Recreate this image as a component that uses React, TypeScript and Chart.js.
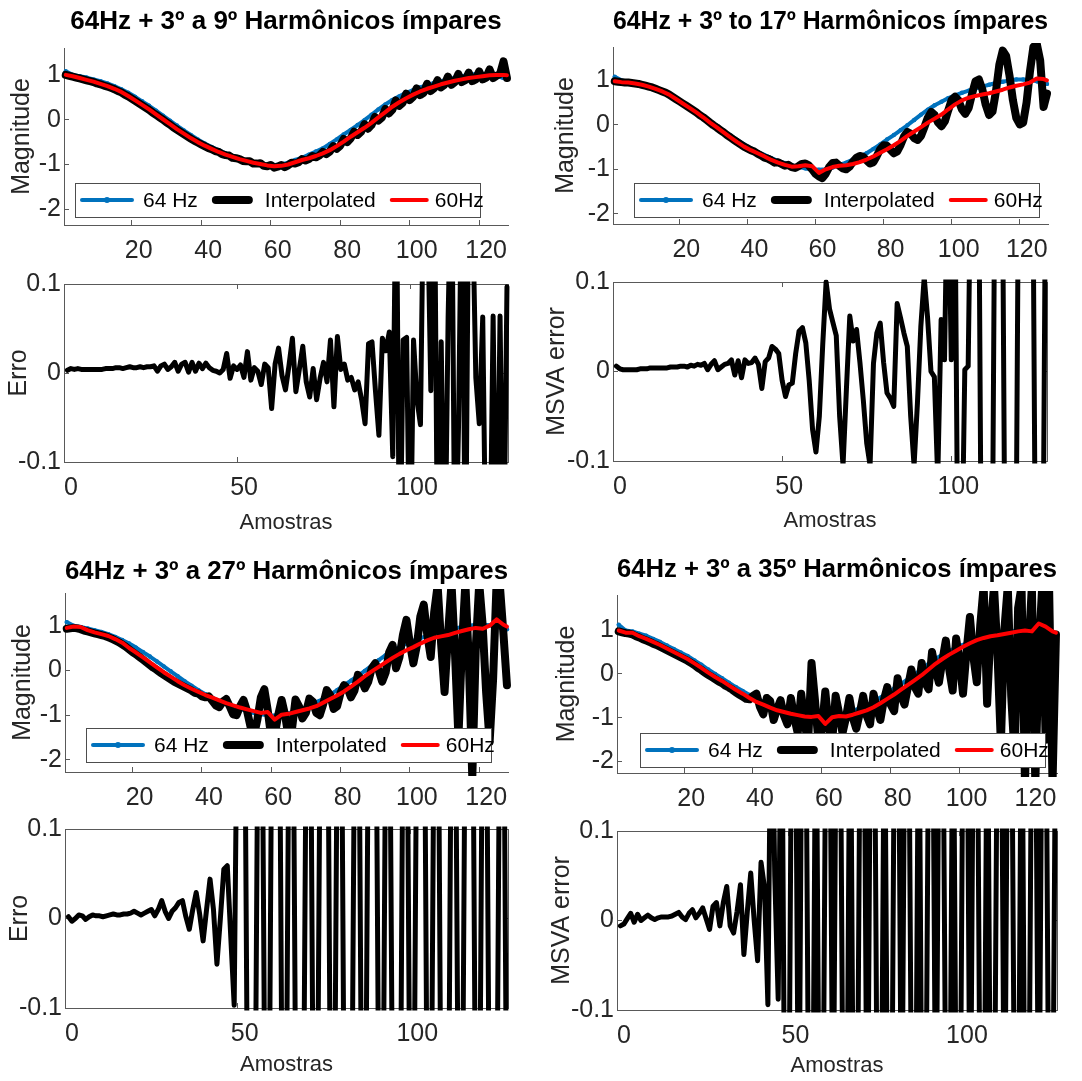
import { useEffect, useRef } from 'react';
import { Chart, registerables } from 'chart.js';

Chart.register(...registerables);

// ---------------- data ----------------
const SAMPLES: number[] = Array.from({ length: 128 }, (_, i) => i + 1);
const HALF_SAMPLES: number[] = [...Array.from({ length: 64 }, (_, i) => 2 * i + 1), 128];

const MAG_X_TICKS = [20, 40, 60, 80, 100, 120];
const MAG_Y_TICKS = [-2, -1, 0, 1];
const ERR_X_TICKS = [0, 50, 100];
const ERR_Y_TICKS = [-0.1, 0, 0.1];

const TITLES = [
  '64Hz + 3º a 9º Harmônicos ímpares',
  '64Hz + 3º to 17º Harmônicos ímpares',
  '64Hz + 3º a 27º Harmônicos ímpares',
  '64Hz + 3º a 35º Harmônicos ímpares',
];
const SERIES_LABELS = ['64 Hz', 'Interpolated', '60Hz'];
const ERR_LABELS = ['Erro', 'MSVA error', 'Erro', 'MSVA error'];

// 64 Hz reference (odd samples + last)
const HZ64 = [
  1.08, 1.0, 0.97, 0.94, 0.9, 0.86, 0.81, 0.75, 0.68, 0.6,
  0.51, 0.41, 0.31, 0.2, 0.09, -0.02, -0.13, -0.24, -0.34, -0.44,
  -0.53, -0.61, -0.68, -0.75, -0.81, -0.86, -0.91, -0.95, -0.98, -1.0,
  -1.01, -1.0, -0.96, -0.9, -0.85, -0.78, -0.71, -0.64, -0.54, -0.44,
  -0.33, -0.23, -0.12, -0.01, 0.11, 0.23, 0.34, 0.44, 0.52, 0.6,
  0.66, 0.72, 0.77, 0.82, 0.86, 0.9, 0.94, 0.97, 1.0, 1.02,
  1.02, 1.01, 0.98, 0.93, 0.92,
];
const HZ64_D = [
  1.12, 0.99, 0.97, 0.92, 0.87, 0.8, 0.73, 0.65, 0.57, 0.49,
  0.41, 0.31, 0.21, 0.1, 0.0, -0.1, -0.2, -0.3, -0.39, -0.48,
  -0.56, -0.63, -0.7, -0.76, -0.81, -0.86, -0.91, -0.95, -0.98, -1.0,
  -1.01, -1.0, -0.96, -0.9, -0.85, -0.78, -0.71, -0.64, -0.54, -0.44,
  -0.33, -0.23, -0.12, -0.01, 0.11, 0.23, 0.34, 0.44, 0.52, 0.6,
  0.66, 0.72, 0.77, 0.82, 0.86, 0.9, 0.94, 0.97, 1.0, 1.02,
  1.02, 1.01, 0.98, 0.93, 0.92,
];

// 60 Hz curves (odd samples + last)
const HZ60_A = [
  1.0, 0.97, 0.93, 0.89, 0.85, 0.8, 0.75, 0.69, 0.62, 0.53,
  0.43, 0.33, 0.23, 0.12, 0.01, -0.1, -0.21, -0.31, -0.41, -0.5,
  -0.58, -0.65, -0.72, -0.78, -0.83, -0.88, -0.92, -0.96, -0.99, -1.02,
  -1.04, -1.03, -1.0, -0.95, -0.9, -0.86, -0.81, -0.75, -0.68, -0.59,
  -0.49, -0.38, -0.28, -0.18, -0.07, 0.05, 0.17, 0.29, 0.39, 0.48,
  0.56, 0.63, 0.69, 0.74, 0.79, 0.83, 0.87, 0.9, 0.93, 0.95,
  0.97, 0.99, 1.0, 1.0, 0.99,
];
const HZ60_B = [
  0.98, 0.96, 0.95, 0.93, 0.9, 0.86, 0.81, 0.75, 0.68, 0.58,
  0.48, 0.38, 0.28, 0.17, 0.05, -0.06, -0.17, -0.28, -0.39, -0.49,
  -0.57, -0.64, -0.71, -0.79, -0.85, -0.9, -0.94, -0.93, -0.91, -0.93,
  -1.08, -1.0, -0.95, -0.92, -0.91, -0.88, -0.84, -0.78, -0.71, -0.63,
  -0.55, -0.46, -0.36, -0.25, -0.15, -0.05, 0.05, 0.14, 0.23, 0.35,
  0.46, 0.55, 0.61, 0.65, 0.68, 0.71, 0.75, 0.79, 0.84, 0.88,
  0.91, 0.95, 1.04, 1.03, 1.0,
];
const HZ60_C = [
  0.95, 0.98, 0.97, 0.9, 0.85, 0.81, 0.77, 0.7, 0.62, 0.5,
  0.4, 0.29, 0.18, 0.07, -0.04, -0.14, -0.24, -0.33, -0.41, -0.48,
  -0.55, -0.61, -0.67, -0.73, -0.78, -0.83, -0.87, -0.91, -0.95, -0.93,
  -1.1, -0.99, -0.97, -0.93, -0.89, -0.85, -0.8, -0.72, -0.64, -0.56,
  -0.47, -0.36, -0.25, -0.13, -0.02, 0.08, 0.18, 0.28, 0.37, 0.45,
  0.52, 0.6, 0.67, 0.73, 0.76, 0.79, 0.84, 0.88, 0.92, 0.95,
  0.93, 1.0, 1.14, 1.02, 0.98,
];
const HZ60_D = [
  0.99, 0.94, 0.94, 0.86, 0.8, 0.73, 0.66, 0.58, 0.5, 0.42,
  0.34, 0.24, 0.14, 0.03, -0.07, -0.16, -0.26, -0.36, -0.45, -0.55,
  -0.64, -0.7, -0.77, -0.83, -0.87, -0.91, -0.94, -0.97, -0.98, -0.96,
  -1.14, -0.99, -0.96, -0.97, -0.93, -0.88, -0.83, -0.76, -0.67, -0.57,
  -0.47, -0.36, -0.25, -0.14, -0.03, 0.1, 0.23, 0.34, 0.44, 0.53,
  0.62, 0.7, 0.77, 0.82, 0.86, 0.88, 0.91, 0.94, 0.97, 0.99,
  0.97, 1.15, 1.08, 0.97, 0.94,
];

// Interpolated curves (every sample)
const INTERP_A = [
  1.0, 0.98, 0.96, 0.94, 0.92, 0.9, 0.88, 0.86, 0.84, 0.81,
  0.79, 0.76, 0.74, 0.71, 0.68, 0.64, 0.61, 0.56, 0.52, 0.47,
  0.42, 0.37, 0.32, 0.27, 0.22, 0.16, 0.11, 0.05, 0.0, -0.06,
  -0.11, -0.17, -0.22, -0.27, -0.32, -0.37, -0.42, -0.47, -0.51, -0.55,
  -0.59, -0.63, -0.66, -0.7, -0.72, -0.77, -0.79, -0.8, -0.85, -0.86,
  -0.88, -0.92, -0.93, -0.93, -0.98, -0.98, -0.97, -1.03, -1.04, -1.01,
  -1.07, -1.05, -1.01, -1.06, -1.02, -0.96, -0.98, -0.95, -0.88, -0.91,
  -0.88, -0.81, -0.84, -0.8, -0.72, -0.77, -0.71, -0.59, -0.65, -0.58,
  -0.43, -0.5, -0.42, -0.27, -0.34, -0.27, -0.1, -0.2, -0.12, 0.06,
  -0.02, 0.05, 0.24, 0.14, 0.22, 0.43, 0.31, 0.38, 0.58, 0.44,
  0.51, 0.7, 0.55, 0.6, 0.8, 0.64, 0.7, 0.88, 0.72, 0.78,
  0.96, 0.78, 0.84, 1.02, 0.84, 0.88, 1.05, 0.86, 0.9, 1.08,
  0.9, 0.94, 1.12, 0.93, 0.98, 1.02, 1.3, 0.93,
];
const INTERP_B = [
  0.98, 0.97, 0.96, 0.95, 0.95, 0.94, 0.93, 0.92, 0.9, 0.88,
  0.86, 0.84, 0.81, 0.78, 0.75, 0.72, 0.68, 0.63, 0.58, 0.53,
  0.48, 0.43, 0.38, 0.33, 0.28, 0.22, 0.17, 0.11, 0.05, -0.01,
  -0.06, -0.12, -0.17, -0.23, -0.28, -0.34, -0.39, -0.44, -0.49, -0.53,
  -0.57, -0.6, -0.65, -0.69, -0.74, -0.76, -0.8, -0.85, -0.84, -0.88,
  -0.92, -0.9, -0.95, -0.97, -0.93, -0.88, -0.87, -0.91, -1.0, -1.1,
  -1.16, -1.2, -1.1, -0.95, -0.86, -0.85, -0.92, -0.98, -1.0, -0.94,
  -0.83, -0.74, -0.7, -0.72, -0.8, -0.87, -0.84, -0.7, -0.55, -0.46,
  -0.47, -0.56, -0.64, -0.6, -0.45, -0.26, -0.16, -0.2, -0.3, -0.34,
  -0.25, -0.05, 0.16, 0.29, 0.22, 0.05, -0.03, 0.08, 0.33, 0.56,
  0.63, 0.55, 0.35, 0.25, 0.38, 0.7, 0.98, 1.02, 0.8, 0.45,
  0.22, 0.3, 0.75, 1.35, 1.67, 1.55, 1.1, 0.55, 0.15, 0.01,
  0.05, 0.5, 1.2, 1.75, 1.82, 1.45, 0.4, 0.7,
];
const INTERP_C = [
  0.93, 0.94, 0.95, 0.94, 0.92, 0.89, 0.87, 0.85, 0.83, 0.81,
  0.79, 0.77, 0.74, 0.71, 0.67, 0.63, 0.58, 0.53, 0.47, 0.41,
  0.36, 0.3, 0.24, 0.18, 0.12, 0.06, 0.01, -0.05, -0.1, -0.15,
  -0.2, -0.25, -0.29, -0.33, -0.37, -0.41, -0.45, -0.5, -0.52, -0.58,
  -0.6, -0.58, -0.68, -0.78, -0.82, -0.7, -0.64, -0.8, -0.98, -1.0,
  -0.8, -0.66, -0.9, -1.25, -1.45, -1.1, -0.6, -0.42, -0.9, -1.5,
  -1.45, -1.0, -0.66, -1.0, -1.5, -1.3, -0.65, -0.8, -1.07, -0.95,
  -0.63, -0.7, -0.95, -1.0, -0.75, -0.44, -0.55, -0.86, -0.8, -0.5,
  -0.33, -0.4, -0.6, -0.45, -0.1, -0.2, -0.4, -0.25, 0.05, 0.16,
  0.0, -0.25, -0.05, 0.4, 0.57, 0.05, 0.3, 0.8, 1.13, 0.6,
  0.16, 0.55, 1.2, 1.47, 0.8, 0.3, 1.3, 1.9, 0.6, -0.48,
  0.8, 1.95, 0.4, -1.5, 0.5, 1.95, 0.2, -2.4, 0.5, 1.95,
  1.0, -0.5, -1.6, -0.2, 1.95, 1.85, 0.8, -0.33,
];
const INTERP_D = [
  0.97, 0.95, 0.93, 0.92, 0.9, 0.86, 0.83, 0.79, 0.76, 0.73,
  0.69, 0.66, 0.62, 0.58, 0.54, 0.5, 0.46, 0.42, 0.38, 0.34,
  0.3, 0.25, 0.2, 0.14, 0.09, 0.03, -0.02, -0.07, -0.12, -0.17,
  -0.21, -0.27, -0.31, -0.36, -0.42, -0.47, -0.52, -0.57, -0.58, -0.5,
  -0.45, -0.75, -0.92, -0.55, -0.62, -1.05, -0.8, -0.6, -0.95, -1.15,
  -0.55, -1.0, -1.35, -0.45, -1.1, -1.6, 0.25, -0.6, -1.55, -1.3,
  -0.4, -1.2, -1.55, -0.5, -0.9, -1.35, -1.0, -0.55, -1.0, -1.25,
  -0.9, -0.5, -0.95, -1.15, -0.45, -0.8, -1.05, -0.6, -0.3, -0.7,
  -0.85, -0.1, -0.5, -0.7, -0.3, 0.1, -0.3, -0.45, 0.25, -0.2,
  -0.35, 0.5, 0.1, -0.2, 0.3, 0.76, 0.1, -0.38, 0.81, 0.3,
  -0.45, 0.5, 1.3, 0.4, -0.19, 1.1, 2.0, -0.68, 1.0, 2.0,
  0.5, -1.6, 1.0, 2.0, -0.5, -1.9, 1.5, 2.0, -2.5, 0.5,
  2.0, -2.5, 0.5, 2.0, -1.5, 2.0, -2.5, 0.9,
];

// Error curves (every sample)
const ERR_A = [
  0.003, 0.005, 0.004, 0.005, 0.004, 0.004, 0.004, 0.004, 0.004, 0.004,
  0.004, 0.005, 0.005, 0.005, 0.006, 0.006, 0.005, 0.006, 0.007, 0.006,
  0.006, 0.007, 0.006, 0.007, 0.007, 0.008, 0.002, 0.008, 0.01, 0.004,
  0.007, 0.012, 0.002, 0.01, 0.012, 0.001, 0.012, 0.002, 0.011, 0.005,
  0.011, 0.006, 0.003, 0.002, 0.0, 0.004, 0.022, -0.006, 0.008, 0.004,
  0.009, -0.005, 0.024, -0.008, 0.006, 0.002, -0.013, 0.01, 0.006, -0.04,
  0.01, 0.028, -0.003, -0.019, 0.008, 0.039, -0.021, 0.004, 0.03, -0.01,
  -0.027, 0.005, -0.03, -0.006, 0.012, -0.01, 0.037, -0.038, 0.041, 0.004,
  0.01, -0.008, -0.005, -0.019, -0.01, -0.03, -0.057, 0.033, 0.035, -0.02,
  -0.07, 0.039, 0.025, 0.046, -0.094, 0.25, -0.25, 0.037, 0.04, -0.25,
  0.037, -0.03, -0.058, 0.25, 0.2, -0.02, 0.25, -0.25, 0.035, -0.25,
  0.063, 0.25, -0.25, -0.06, 0.25, -0.25, 0.25, 0.2, -0.005, -0.057,
  0.063, -0.25, -0.25, 0.064, -0.25, 0.064, -0.25, 0.097,
];
const ERR_B = [
  0.006, 0.003, 0.002, 0.002, 0.002, 0.002, 0.002, 0.003, 0.003, 0.003,
  0.004, 0.004, 0.004, 0.004, 0.004, 0.004, 0.005, 0.005, 0.005, 0.006,
  0.006, 0.005, 0.007, 0.006, 0.008, 0.007, 0.009, 0.002, 0.008, 0.012,
  0.002, 0.005, 0.008, 0.009, 0.013, -0.004, 0.012, -0.007, 0.013, 0.009,
  0.01, 0.015, 0.008, -0.019, 0.011, 0.015, 0.028, 0.025, 0.02, -0.01,
  -0.028, -0.015, -0.013, 0.02, 0.045, 0.049, 0.032, -0.01, -0.065, -0.09,
  -0.05, 0.03, 0.1, 0.07, 0.055, 0.04, -0.05, -0.105, -0.02, 0.062,
  0.034, 0.047, 0.01, -0.032, -0.08, -0.105, 0.009, 0.043, 0.054, 0.01,
  -0.024, -0.03, -0.039, 0.076, 0.06, 0.043, 0.028, -0.05, -0.105, -0.035,
  0.05, 0.105, 0.06, 0.0, -0.006, -0.12, 0.058, 0.013, 0.25, 0.013,
  0.25, -0.25, -0.25, 0.002, 0.006, 0.3, 0.3, 0.3, -0.3, -0.3,
  -0.3, -0.3, 0.3, 0.3, 0.3, -0.3, -0.3, -0.3, -0.3, 0.3,
  0.3, 0.3, 0.3, 0.3, -0.3, -0.3, -0.3, 0.3,
];
const ERR_C = [
  0.002, -0.003, 0.0, 0.004, 0.003, -0.001, 0.002, 0.004, 0.003, 0.003,
  0.002, 0.003, 0.004, 0.005, 0.004, 0.004, 0.005, 0.005, 0.006, 0.008,
  0.006, 0.004, 0.006, 0.008, 0.01, 0.003, 0.01, 0.02, 0.008, 0.0,
  0.008, 0.012, 0.018, 0.02, 0.002, -0.012, 0.01, 0.029, 0.005, -0.025,
  0.01, 0.044, 0.01, -0.051, 0.0, 0.055, 0.059, -0.02, -0.097, 0.3,
  0.32, 0.28, -0.3, -0.33, -0.28, 0.3, 0.31, -0.29, -0.32, 0.3,
  0.28, 0.33, -0.3, -0.28, 0.31, 0.3, -0.32, -0.3, -0.28, 0.3,
  0.33, -0.3, -0.31, 0.28, 0.3, 0.32, -0.3, -0.28, 0.31, 0.3,
  -0.32, -0.3, -0.28, 0.3, 0.33, -0.3, -0.29, 0.31, 0.28, 0.3,
  -0.3, -0.32, 0.3, 0.28, -0.31, -0.3, -0.33, 0.3, 0.29, -0.3,
  -0.28, 0.31, 0.3, 0.32, -0.3, -0.29, 0.3, 0.33, -0.31, -0.28,
  -0.3, 0.32, 0.3, -0.29, -0.31, 0.3, 0.28, 0.32, -0.3, -0.3,
  0.31, 0.29, -0.3, -0.32, -0.28, 0.3, 0.31, -0.3,
];
const ERR_D = [
  -0.006, -0.004, 0.002, 0.008, -0.002, 0.007, 0.0, 0.003, 0.006, 0.003,
  0.001, 0.003, 0.004, 0.004, 0.004, 0.005, 0.007, 0.009, 0.004, 0.001,
  0.008, 0.012, 0.003, 0.008, 0.014, 0.002, -0.01, 0.016, 0.02, -0.006,
  0.02, 0.038, -0.006, -0.014, 0.01, 0.04, -0.038, 0.01, 0.053, 0.0,
  -0.045, 0.065, 0.037, -0.094, 0.3, 0.05, -0.088, 0.3, -0.3, -0.32,
  0.3, 0.28, -0.3, 0.32, 0.29, -0.3, -0.31, 0.3, -0.28, -0.3,
  0.31, 0.3, -0.29, 0.3, 0.32, -0.3, -0.28, 0.31, -0.3, -0.3,
  0.3, 0.29, -0.32, 0.3, 0.3, -0.31, -0.3, 0.28, -0.3, -0.32,
  0.3, 0.31, -0.3, 0.29, 0.3, -0.3, -0.32, 0.3, -0.31, -0.28,
  0.3, 0.3, -0.3, 0.32, 0.28, -0.3, -0.3, 0.31, -0.29, -0.3,
  0.3, 0.32, -0.3, 0.3, 0.29, -0.31, -0.3, 0.3, -0.32, -0.28,
  0.3, 0.3, -0.3, 0.31, 0.3, -0.29, -0.3, 0.32, -0.3, -0.31,
  0.3, 0.28, -0.3, 0.3, 0.31, -0.3, -0.29, 0.3,
];

// ---------------- styles / layout ----------------
const BLUE = '#0072BD';
const RED = '#FF0000';
const BLACK = '#000000';
const AXIS = '#595959';
const TXT = '#262626';
const TICK_LEN = -5;

type Frame = { x: number; y: number; w: number; h: number };
type Area = { l: number; t: number; r: number; b: number };

const PANELS: any[] = [
  { kind: 'mag', title: TITLES[0], blue: HZ64, black: INTERP_A, red: HZ60_A, yMin: -2.35, yMax: 1.6,
    frame: { x: 0, y: 0, w: 541, h: 275 }, area: { l: 64, t: 48, r: 508, b: 225 }, titleY: 22, yTitleX: 22, legendDx: -9, legendGap: 8 },
  { kind: 'err', label: ERR_LABELS[0], values: ERR_A,
    frame: { x: 0, y: 250, w: 541, h: 290 }, area: { l: 64, t: 284, r: 508, b: 462 }, yTitleX: 19.5, xTitleFromBottom: 17 },
  { kind: 'mag', title: TITLES[1], blue: HZ64, black: INTERP_B, red: HZ60_B, yMin: -2.23, yMax: 1.75,
    frame: { x: 541, y: 0, w: 541, h: 275 }, area: { l: 613, t: 47, r: 1048, b: 224 }, titleY: 21.7, yTitleX: 566, legendDx: 6, legendGap: 7 },
  { kind: 'err', label: ERR_LABELS[1], values: ERR_B,
    frame: { x: 541, y: 250, w: 541, h: 290 }, area: { l: 613, t: 282, r: 1047, b: 461 }, yTitleX: 556.7, xTitleFromBottom: 19 },
  { kind: 'mag', title: TITLES[2], blue: HZ64, black: INTERP_C, red: HZ60_C, yMin: -2.27, yMax: 1.73,
    frame: { x: 0, y: 540, w: 541, h: 275 }, area: { l: 65, t: 593, r: 508, b: 772 }, titleY: 571.7, yTitleX: 23.3, legendDx: 2, legendGap: 10 },
  { kind: 'err', label: ERR_LABELS[2], values: ERR_C,
    frame: { x: 0, y: 795, w: 541, h: 286 }, area: { l: 65, t: 829, r: 508, b: 1008 }, yTitleX: 20, xTitleFromBottom: 16 },
  { kind: 'mag', title: TITLES[3], blue: HZ64_D, black: INTERP_D, red: HZ60_D, yMin: -2.26, yMax: 1.8,
    frame: { x: 541, y: 540, w: 541, h: 275 }, area: { l: 617, t: 595, r: 1057, b: 773 }, titleY: 570, yTitleX: 567.5, legendDx: 5, legendGap: 6 },
  { kind: 'err', label: ERR_LABELS[3], values: ERR_D,
    frame: { x: 541, y: 795, w: 541, h: 286 }, area: { l: 617, t: 831, r: 1057, b: 1010 }, yTitleX: 562.5, xTitleFromBottom: 15 },
];

function fontAvailable(family: string): boolean {
  const ctx = document.createElement('canvas').getContext('2d');
  if (!ctx) return false;
  const sample = 'Amostras 0123456789 Wmi';
  ctx.font = '40px monospace';
  const a = ctx.measureText(sample).width;
  ctx.font = `40px "${family}", monospace`;
  const b = ctx.measureText(sample).width;
  return Math.abs(a - b) > 0.5;
}

function pickFonts() {
  const sans = '"Liberation Sans", Arial, Helvetica, sans-serif';
  const narrowOk = fontAvailable('Liberation Sans Narrow');
  const narrow = '"Liberation Sans Narrow", "Liberation Sans", Arial, sans-serif';
  return {
    sans,
    tick: narrowOk ? { family: narrow, size: 28, lineHeight: 1 } : { family: sans, size: 25, lineHeight: 1 },
    xTitle: narrowOk ? { family: narrow, size: 26, lineHeight: 1 } : { family: sans, size: 22, lineHeight: 1 },
    yTitle: { family: sans, size: 25, lineHeight: 1 },
    title: { family: sans, size: 26, weight: 'bold', lineHeight: 1.2 },
    legend: `21px ${sans}`,
  };
}

const matlabLegend = {
  id: 'matlabLegend',
  afterDatasetsDraw(chart: any, _args: any, opts: any) {
    if (!opts || !opts.display) return;
    const { ctx, chartArea } = chart;
    const w = opts.width;
    const h = opts.height;
    const left = Math.round((chartArea.left + chartArea.right) / 2 + opts.dx - w / 2);
    const top = Math.round(chartArea.bottom - opts.gap - h);
    const cy = top + h / 2;
    ctx.save();
    ctx.fillStyle = '#ffffff';
    ctx.fillRect(left, top, w, h);
    ctx.lineWidth = 1;
    ctx.strokeStyle = opts.borderColor;
    ctx.strokeRect(left + 0.5, top + 0.5, w, h);
    ctx.font = opts.font;
    ctx.textAlign = 'left';
    ctx.textBaseline = 'middle';
    let x = left + opts.startPad;
    chart.data.datasets.forEach((ds: any, i: number) => {
      const lw = ds.borderWidth;
      const len = opts.lineLengths[i];
      ctx.strokeStyle = ds.borderColor;
      ctx.lineWidth = lw;
      ctx.lineCap = 'round';
      ctx.beginPath();
      ctx.moveTo(x + lw / 2, cy);
      ctx.lineTo(x + len - lw / 2, cy);
      ctx.stroke();
      if (ds.pointRadius > 0) {
        ctx.fillStyle = ds.borderColor;
        ctx.beginPath();
        ctx.arc(x + len / 2, cy, 3, 0, Math.PI * 2);
        ctx.fill();
      }
      x += len + opts.textGaps[i];
      ctx.fillStyle = opts.textColor;
      ctx.fillText(ds.label, x, cy + 1);
      x += ctx.measureText(ds.label).width + opts.itemGap;
    });
    ctx.restore();
  },
};

const pts = (xs: number[], ys: number[]) => xs.map((x, i) => ({ x, y: ys[i] }));

function axisCommon(ticksArr: number[], fonts: any, showLabels: boolean) {
  return {
    type: 'linear',
    afterBuildTicks: (s: any) => {
      s.ticks = ticksArr.map((v) => ({ value: v }));
    },
    grid: {
      display: true,
      drawOnChartArea: false,
      drawTicks: true,
      tickLength: TICK_LEN,
      tickColor: AXIS,
      tickWidth: 1,
      color: AXIS,
      lineWidth: 1,
    },
    border: { display: true, color: AXIS, width: 1 },
    ticks: {
      display: showLabels,
      font: fonts.tick,
      color: TXT,
      autoSkip: false,
      maxRotation: 0,
      minRotation: 0,
      callback: (v: any) => String(v),
    },
  };
}

function makeChart(canvas: HTMLCanvasElement, p: any, fonts: any) {
  const F: Frame = p.frame;
  const A: Area = p.area;
  const relL = A.l - F.x;
  const relR = A.r - F.x;
  const relT = A.t - F.y;
  const relB = A.b - F.y;
  const xLabelPad = 26 - TICK_LEN - fonts.tick.size / 2;
  const yLabelPad = 3 - TICK_LEN;
  const yTitlePad = p.yTitleX - F.x - fonts.yTitle.size / 2;

  const isMag = p.kind === 'mag';
  const xTicks = isMag ? MAG_X_TICKS : ERR_X_TICKS;
  const yTicks = isMag ? MAG_Y_TICKS : ERR_Y_TICKS;
  const xMin = isMag ? 0.5 : 0;
  const xMax = 128.3;
  const yMin = isMag ? p.yMin : -0.1;
  const yMax = isMag ? p.yMax : 0.1;

  const xBase: any = axisCommon(xTicks, fonts, true);
  const x = {
    ...xBase,
    position: 'bottom',
    min: xMin,
    max: xMax,
    afterFit: (s: any) => {
      s.height = F.h - relB;
    },
    ticks: { ...xBase.ticks, padding: xLabelPad, labelOffset: 7 },
    title: isMag
      ? { display: false }
      : {
          display: true,
          text: 'Amostras',
          color: TXT,
          font: fonts.xTitle,
          padding: { top: 0, bottom: p.xTitleFromBottom - fonts.xTitle.size / 2 },
        },
  };
  const yBase: any = axisCommon(yTicks, fonts, true);
  const y = {
    ...yBase,
    position: 'left',
    min: yMin,
    max: yMax,
    afterFit: (s: any) => {
      s.width = relL;
    },
    ticks: { ...yBase.ticks, padding: yLabelPad },
    title: {
      display: true,
      text: isMag ? 'Magnitude' : p.label,
      color: TXT,
      font: fonts.yTitle,
      padding: { top: yTitlePad, bottom: 0 },
    },
  };

  const scales: any = { x, y };
  if (!isMag) {
    const x2b: any = axisCommon(xTicks, fonts, false);
    scales.x2 = {
      ...x2b,
      position: 'top',
      min: xMin,
      max: xMax,
      afterFit: (s: any) => {
        s.height = 0;
      },
    };
    const y2b: any = axisCommon(yTicks, fonts, false);
    scales.y2 = {
      ...y2b,
      position: 'right',
      min: yMin,
      max: yMax,
      afterFit: (s: any) => {
        s.width = 0;
      },
    };
  }

  const datasets: any[] = isMag
    ? [
        {
          label: SERIES_LABELS[0],
          data: pts(HALF_SAMPLES, p.blue),
          borderColor: BLUE,
          backgroundColor: BLUE,
          borderWidth: 4,
          pointRadius: 2.2,
          pointHoverRadius: 0,
          pointBorderWidth: 0,
          pointBackgroundColor: BLUE,
          borderJoinStyle: 'round',
          borderCapStyle: 'round',
          tension: 0,
          order: 3,
          clip: 3,
        },
        {
          label: SERIES_LABELS[1],
          data: pts(SAMPLES, p.black),
          borderColor: BLACK,
          backgroundColor: BLACK,
          borderWidth: 8,
          pointRadius: 0,
          borderJoinStyle: 'round',
          borderCapStyle: 'round',
          tension: 0,
          order: 2,
          clip: 4,
        },
        {
          label: SERIES_LABELS[2],
          data: pts(HALF_SAMPLES, p.red),
          borderColor: RED,
          backgroundColor: RED,
          borderWidth: 4,
          pointRadius: 0,
          borderJoinStyle: 'round',
          borderCapStyle: 'round',
          tension: 0,
          order: 1,
          clip: 2,
        },
      ]
    : [
        {
          label: p.label,
          data: pts(SAMPLES, p.values),
          borderColor: BLACK,
          backgroundColor: BLACK,
          borderWidth: 5,
          pointRadius: 0,
          borderJoinStyle: 'round',
          borderCapStyle: 'round',
          tension: 0,
          clip: 2.5,
        },
      ];

  const titleLH = fonts.title.size * fonts.title.lineHeight;
  const titleCenter = isMag ? p.titleY - F.y : 0;

  return new Chart(canvas, {
    type: 'line',
    data: { datasets },
    options: {
      responsive: false,
      maintainAspectRatio: false,
      animation: false,
      events: [],
      layout: {
        padding: { left: 0, top: isMag ? 0 : relT, right: F.w - relR, bottom: 0 },
      },
      plugins: {
        legend: { display: false },
        tooltip: { enabled: false },
        title: isMag
          ? {
              display: true,
              text: p.title,
              color: '#000000',
              fullSize: false,
              font: fonts.title,
              padding: { top: titleCenter - titleLH / 2, bottom: relT - titleCenter - titleLH / 2 },
            }
          : { display: false },
        matlabLegend: isMag
          ? {
              display: true,
              width: 405,
              height: 34,
              dx: p.legendDx,
              gap: p.legendGap,
              startPad: 5,
              lineLengths: [54, 41, 39],
              textGaps: [9, 12, 6],
              itemGap: 14,
              font: fonts.legend,
              textColor: '#000000',
              borderColor: '#4d4d4d',
            }
          : { display: false },
      } as any,
      scales,
    } as any,
    plugins: [matlabLegend as any],
  });
}

export default function App() {
  const refs = useRef<(HTMLCanvasElement | null)[]>([]);

  useEffect(() => {
    Chart.defaults.font.family = '"Liberation Sans", Arial, sans-serif';
    const fonts = pickFonts();
    const charts = PANELS.map((p, i) => {
      const c = refs.current[i];
      return c ? makeChart(c, p, fonts) : null;
    });
    return () => {
      charts.forEach((ch) => ch && ch.destroy());
    };
  }, []);

  return (
    <div
      style={{
        position: 'absolute',
        left: 0,
        top: 0,
        width: 1082,
        height: 1081,
        background: '#ffffff',
        overflow: 'hidden',
      }}
    >
      {PANELS.map((p, i) => (
        <canvas
          key={i}
          ref={(el) => {
            refs.current[i] = el;
          }}
          width={p.frame.w}
          height={p.frame.h}
          style={{ position: 'absolute', left: p.frame.x, top: p.frame.y, width: p.frame.w, height: p.frame.h }}
        />
      ))}
    </div>
  );
}
